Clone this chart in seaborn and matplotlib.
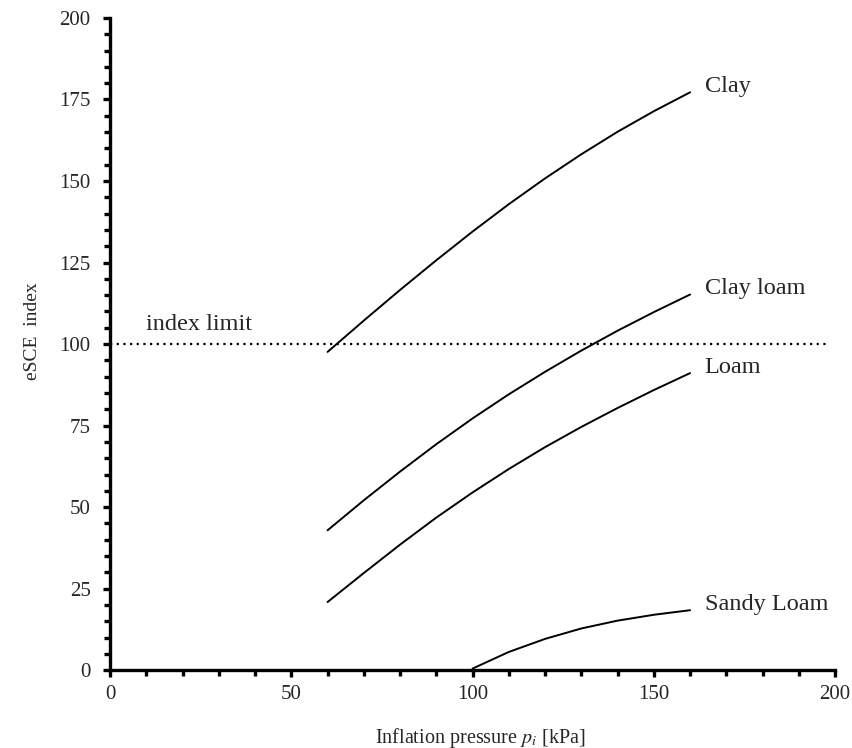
import numpy as np
import pandas as pd
import seaborn as sns
import matplotlib.pyplot as plt
from matplotlib.ticker import MultipleLocator

# Values
pressure = [60, 70, 80, 90, 100, 110, 120, 130, 140, 150, 160]
clay = [97.6, 107.2, 116.6, 125.7, 134.5, 142.9, 150.8, 158.2, 165.1, 171.4, 177.2]
clay_loam = [42.9, 52.1, 60.9, 69.3, 77.2, 84.6, 91.5, 98.0, 104.1, 109.8, 115.2]
loam = [20.9, 29.8, 38.5, 46.8, 54.5, 61.7, 68.4, 74.6, 80.4, 85.9, 91.1]
sandy_pressure = [100, 110, 120, 130, 140, 150, 160]
sandy_loam = [0.5, 5.6, 9.6, 12.8, 15.2, 17.0, 18.4]

soils = ['Clay', 'Clay loam', 'Loam', 'Sandy Loam']
index_limit = 100
limit_span = [0, 198]

df = pd.concat([
    pd.DataFrame({'p': pressure, 'esce': clay, 'soil': 'Clay'}),
    pd.DataFrame({'p': pressure, 'esce': clay_loam, 'soil': 'Clay loam'}),
    pd.DataFrame({'p': pressure, 'esce': loam, 'soil': 'Loam'}),
    pd.DataFrame({'p': sandy_pressure, 'esce': sandy_loam, 'soil': 'Sandy Loam'}),
], ignore_index=True)

sns.set_style('ticks')
plt.rcParams['font.family'] = ['Liberation Serif', 'DejaVu Serif']
plt.rcParams['mathtext.fontset'] = 'stix'

fig = plt.figure(figsize=(8.53, 7.48), dpi=100)
ax = fig.add_axes([0.129, 0.104, 0.850, 0.872])

sns.lineplot(data=df, x='p', y='esce', units='soil', estimator=None,
             color='black', linewidth=1.4, ax=ax, legend=False)

ax.hlines(index_limit, limit_span[0], limit_span[1], colors='black',
          linestyles=(0, (1, 2)), linewidth=1.6)

# curve labels just to the right of the line ends
for s in soils:
    sub = df[df['soil'] == s]
    ax.text(sub['p'].iloc[-1] + 4, sub['esce'].iloc[-1] + 1.8, s,
            fontsize=17.5, va='center', ha='left')
ax.text(10, 106, 'index limit', fontsize=17.5, va='center', ha='left')

ax.set_xlim(0, 200)
ax.set_ylim(0, 200)
ax.xaxis.set_major_locator(MultipleLocator(50))
ax.xaxis.set_minor_locator(MultipleLocator(10))
ax.yaxis.set_major_locator(MultipleLocator(25))
ax.yaxis.set_minor_locator(MultipleLocator(5))

sns.despine(ax=ax)
for side in ['left', 'bottom']:
    ax.spines[side].set_linewidth(2.4)
    ax.spines[side].set_color('black')

ax.tick_params(which='major', length=5, width=2.4, labelsize=15, color='black')
ax.tick_params(which='minor', length=4, width=2.4, color='black')
ax.tick_params(axis='y', which='major', pad=9)
ax.tick_params(axis='x', which='major', pad=6)

ax.set_xlabel('Inflation pressure $p_i$ [kPa]', fontsize=14.5)
ax.xaxis.set_label_coords(0.51, -0.085)
ax.set_ylabel('eSCE  index', fontsize=14)
ax.yaxis.set_label_coords(-0.095, 0.52)

fig.savefig('out.png', dpi=100)
